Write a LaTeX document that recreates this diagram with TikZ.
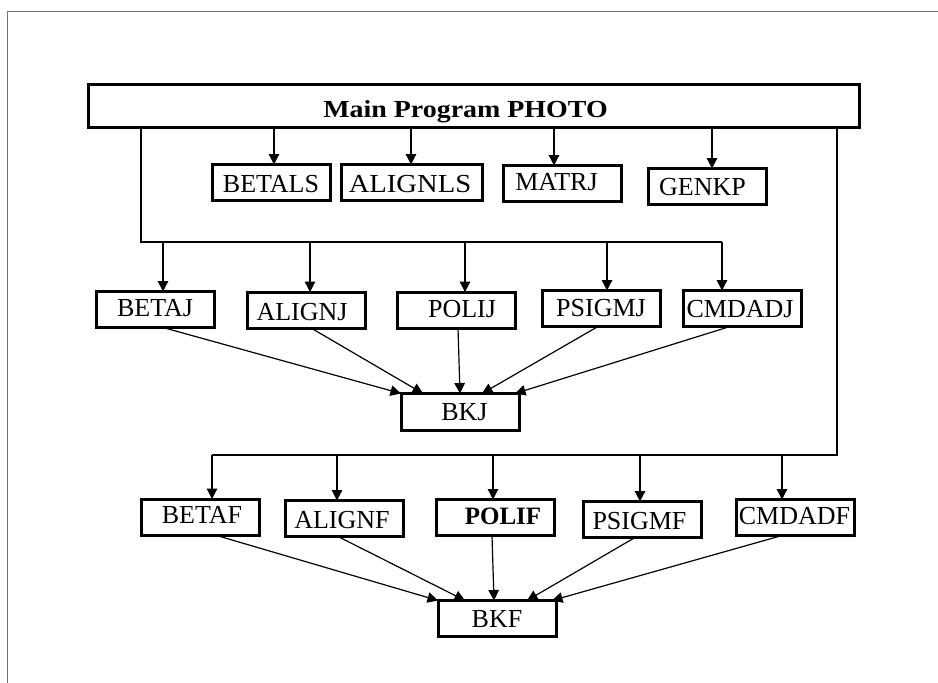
\documentclass[tikz,border=0pt]{standalone}
\usepackage{fontspec}
\setmainfont{Liberation Serif}
\usetikzlibrary{arrows.meta,calc}

\tikzset{
  box/.style={draw, line width=3pt, rectangle, inner sep=0pt, outer sep=0pt,
              minimum width=118pt, minimum height=36pt},
  lab/.style={anchor=base, inner sep=0pt, font=\fontsize{26}{30}\selectfont},
  wire/.style={line width=1.2pt},
  arr/.style={line width=1.2pt, -{Triangle[length=10.5pt,width=10.5pt]}},
  frame/.style={draw=black!55, line width=1pt}
}

\begin{document}
\begin{tikzpicture}[x=1pt, y=-1pt]
\useasboundingbox (0,0) rectangle (938,683);
\fill[white] (0,0) rectangle (938,683);

% outer frame (top and left edges)
\draw[frame] (938,11) -- (7,11) -- (7,683);

% main program box
\node[box, minimum width=771pt, minimum height=43pt] (main) at (474,106) {};
\node[lab, font=\fontsize{24.5}{30}\selectfont\bfseries] (main-t) at (465.5,117) {\scalebox{1.14}[1]{Main Program PHOTO}};

% first row of routines
\node[box] (betals)  at (271.5,182.5) {};
\node[box, minimum width=141pt] (alignls) at (412,182.5) {};
\node[box] (matrj)   at (562.5,183.5) {};
\node[box] (genkp)   at (707.5,186.5) {};
\node[lab] (betals-t)  at (271,192) {BETALS};
\node[lab] (alignls-t) at (410,192) {\scalebox{1.1}[1]{ALIGNLS}};
\node[lab] (matrj-t)   at (556.5,190) {MATRJ};
\node[lab] (genkp-t)   at (702.5,195) {GENKP};

\draw[arr] ([xshift=2.5pt]betals.north |- main.south) -- ([xshift=2.5pt]betals.north);
\draw[arr] ([xshift=-1pt]alignls.north |- main.south) -- ([xshift=-1pt]alignls.north);
\draw[arr] ([xshift=-8.5pt]matrj.north |- main.south) -- ([xshift=-8.5pt]matrj.north);
\draw[arr] ([xshift=4.5pt]genkp.north |- main.south) -- ([xshift=4.5pt]genkp.north);

% second row of routines (J)
\node[box] (betaj)  at (155.5,309.5) {};
\node[box] (alignj) at (306.5,310) {};
\node[box] (polij)  at (456.5,310) {};
\node[box] (psigmj) at (601,308.5) {};
\node[box] (cmdadj) at (742.5,308.5) {};
\node[lab] (betaj-t)  at (155,316) {BETAJ};
\node[lab] (alignj-t) at (302,320) {ALIGNJ};
\node[lab] (polij-t)  at (462,317) {POLIJ};
\node[lab] (psigmj-t) at (601,316) {PSIGMJ};
\node[lab] (cmdadj-t) at (740,317) {CMDADJ};

\node[box, minimum height=37pt] (bkj) at (460.5,412) {};
\node[lab] (bkj-t) at (464.5,420) {BKJ};

% bus to the J routines
\coordinate (jl) at (141,242);
\coordinate (jr) at (722,242);
\draw[wire] (main.south -| jl) -- (jl) -- (jr);
\draw[arr] (jl -| 163,0) -- (betaj.north -| 163,0);
\draw[arr] (jl -| 310,0) -- (alignj.north -| 310,0);
\draw[arr] (jl -| 465,0) -- (polij.north -| 465,0);
\draw[arr] (jl -| 607,0) -- (psigmj.north -| 607,0);
\draw[arr] (jr) -- (cmdadj.north -| jr);

% J routines into BKJ
\draw[arr] ([xshift=7.5pt]betaj.south)   -- ([xshift=-59.5pt]bkj.north);
\draw[arr] ([xshift=4.5pt]alignj.south)  -- ([xshift=-37.5pt]bkj.north);
\draw[arr] ([xshift=1.5pt]polij.south)   -- ([xshift=-0.5pt]bkj.north);
\draw[arr] ([xshift=-3pt]psigmj.south)   -- ([xshift=21.5pt]bkj.north);
\draw[arr] ([xshift=-12.5pt]cmdadj.south) -- ([xshift=54.5pt]bkj.north);

% third row of routines (F)
\node[box] (betaf)  at (200,517) {};
\node[box] (alignf) at (344.5,518.5) {};
\node[box] (polif)  at (495,517.5) {};
\node[box] (psigmf) at (642.5,519.5) {};
\node[box] (cmdadf) at (795,517.5) {};
\node[lab] (betaf-t)  at (202,523) {BETAF};
\node[lab] (alignf-t) at (342,528) {ALIGNF};
\node[lab, font=\fontsize{25}{30}\selectfont\bfseries] (polif-t) at (503,524) {POLIF};
\node[lab] (psigmf-t) at (639.5,529) {PSIGMF};
\node[lab] (cmdadf-t) at (794.5,524) {CMDADF};

\node[box] (bkf) at (497.5,618.5) {};
\node[lab] (bkf-t) at (497,627) {BKF};

% bus to the F routines
\coordinate (fr) at (837,455);
\coordinate (fl) at (212,455);
\draw[wire] (main.south -| fr) -- (fr) -- (fl);
\draw[arr] (fl) -- (betaf.north -| fl);
\draw[arr] (fl -| 337,0) -- (alignf.north -| 337,0);
\draw[arr] (fl -| 493,0) -- (polif.north -| 493,0);
\draw[arr] (fl -| 640,0) -- (psigmf.north -| 640,0);
\draw[arr] (fl -| 782,0) -- (cmdadf.north -| 782,0);

% F routines into BKF
\draw[arr] ([xshift=15pt]betaf.south)    -- ([xshift=-59.5pt]bkf.north);
\draw[arr] ([xshift=-6.5pt]alignf.south) -- ([xshift=-32.5pt]bkf.north);
\draw[arr] ([xshift=-3pt]polif.south)    -- ([xshift=-3.5pt]bkf.north);
\draw[arr] ([xshift=-7.5pt]psigmf.south) -- ([xshift=29.5pt]bkf.north);
\draw[arr] ([xshift=-13pt]cmdadf.south)  -- ([xshift=54.5pt]bkf.north);
\end{tikzpicture}
\end{document}
